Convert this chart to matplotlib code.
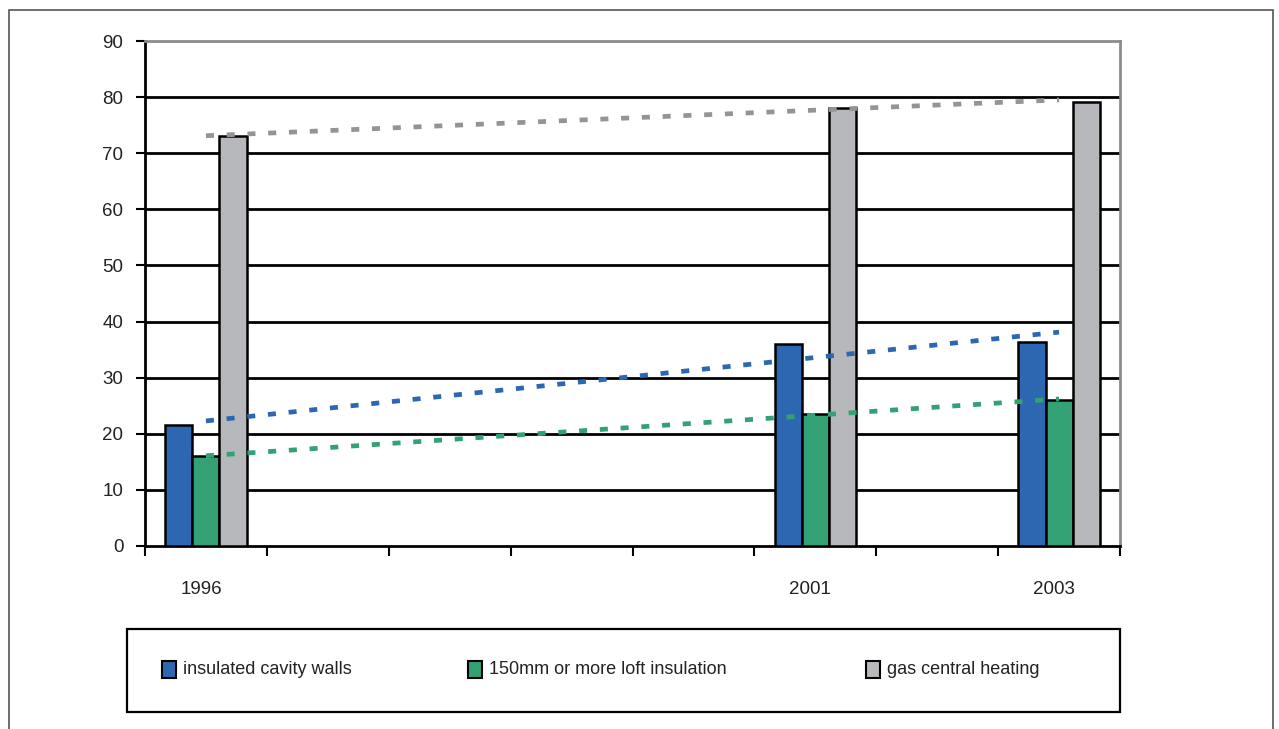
import numpy as np
import matplotlib.pyplot as plt
from matplotlib.patches import Rectangle
from matplotlib.transforms import ScaledTranslation

plt.rcParams['font.family'] = ['Liberation Sans', 'DejaVu Sans']

years = ['1996', '1997', '1998', '1999', '2000', '2001', '2002', '2003']
labelled_years = ['1996', '2001', '2003']
nan = np.nan
cavity_walls = [21.6, nan, nan, nan, nan, 36.0, nan, 36.4]
loft_insulation = [16.0, nan, nan, nan, nan, 23.6, nan, 26.0]
gas_heating = [73.0, nan, nan, nan, nan, 78.1, nan, 79.2]

series = [
    ('insulated cavity walls', cavity_walls, '#2e67b1', '#2e67b1'),
    ('150mm or more loft insulation', loft_insulation, '#33a174', '#33a174'),
    ('gas central heating', gas_heating, '#b7b8bb', '#939496'),
]

W, H = 1279, 729
fig = plt.figure(figsize=(W / 100, H / 100), dpi=100)
ax = fig.add_axes([145 / W, 1 - 546 / H, 975 / W, 505 / H])

x = np.arange(len(years))
bar_w = 1 / 4.5
text_col = '#222222'

for v in range(10, 90, 10):
    ax.axhline(v, color='black', lw=2.0, zorder=1)

for i, (name, vals, col, trend_col) in enumerate(series):
    vals = np.array(vals, dtype=float)
    m = ~np.isnan(vals)
    ax.bar(x[m] + (i - 1) * bar_w, vals[m], width=bar_w, color=col,
           edgecolor='black', linewidth=1.8, zorder=3)
    # linear trend through the surveyed years
    coef = np.polyfit(x[m], vals[m], 1)
    xs = np.array([x[m][0], x[m][-1]])
    ax.plot(xs, np.polyval(coef, xs), color=trend_col, lw=3.4,
            dashes=(1.7, 2.7), solid_capstyle='butt', dash_capstyle='butt', zorder=4)

ax.set_xlim(-0.5, len(years) - 0.5)
ax.set_ylim(0, 90)

ax.set_yticks(range(0, 91, 10))
ax.tick_params(axis='y', direction='out', length=6.5, width=1.5, pad=9,
               labelsize=13.5, labelcolor=text_col)

ax.set_xticks(np.arange(-0.5, len(years), 1.0))
ax.set_xticklabels([])
ax.tick_params(axis='x', which='major', direction='out', length=7, width=1.5)
ax.set_xticks([years.index(y) for y in labelled_years], minor=True)
ax.set_xticklabels(labelled_years, minor=True)
ax.tick_params(axis='x', which='minor', length=0, pad=25.5, labelsize=13.5, labelcolor=text_col)
shift = ScaledTranslation(-5 / 100, 0, fig.dpi_scale_trans)
for lbl in ax.get_xticklabels(minor=True):
    lbl.set_transform(lbl.get_transform() + shift)

for s in ['left', 'bottom']:
    ax.spines[s].set_color('black')
    ax.spines[s].set_linewidth(2)
for s in ['top', 'right']:
    ax.spines[s].set_color('#8c8c8c')
    ax.spines[s].set_linewidth(2)

# outer frame
fig.patches.append(Rectangle((9 / W, -0.05), (1273 - 9) / W, 1 - 10 / H + 0.05,
                             transform=fig.transFigure, fill=False,
                             edgecolor='#555555', lw=1.2))

# legend box
fig.patches.append(Rectangle((127 / W, 1 - 712 / H), (1120 - 127) / W, (712 - 629) / H,
                             transform=fig.transFigure, fill=False,
                             edgecolor='black', lw=1.6))
for (name, vals, col, _), lx in zip(series, [162, 468, 866]):
    fig.patches.append(Rectangle((lx / W, 1 - 678 / H), 14 / W, 17 / H,
                                 transform=fig.transFigure, facecolor=col,
                                 edgecolor='black', lw=1.5))
    fig.text((lx + 21) / W, 1 - 669.5 / H, name, fontsize=13, color=text_col,
             ha='left', va='center')

fig.savefig('out.png', dpi=100)
